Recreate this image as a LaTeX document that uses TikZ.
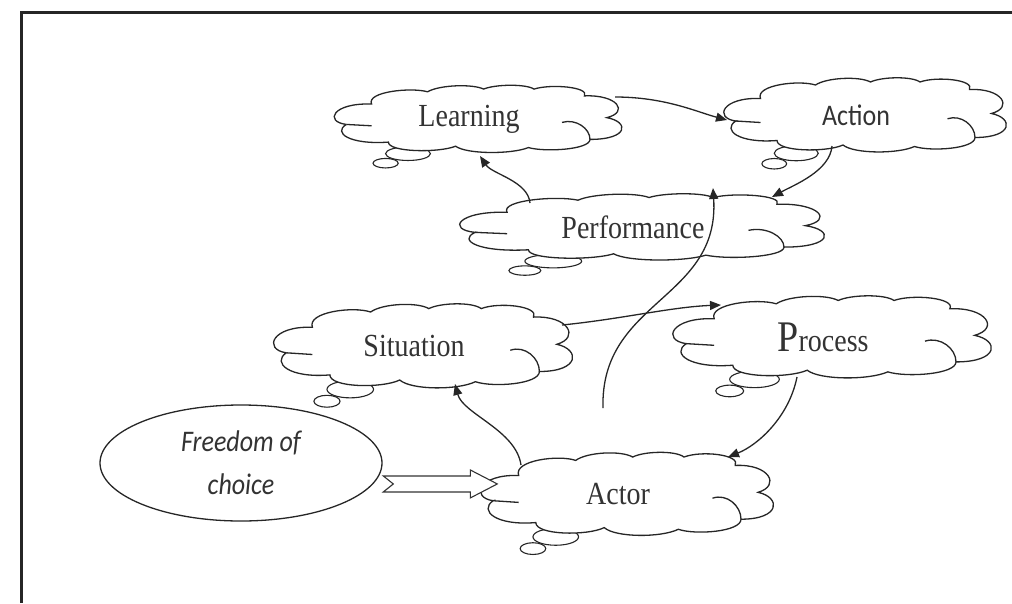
\documentclass[tikz,border=0pt]{standalone}
\usepackage{fontspec}
\setmainfont{Liberation Serif}
\newfontfamily\calfont{Carlito}
\usetikzlibrary{shapes.geometric,arrows.meta,calc}

\tikzset{
  ink/.style={draw=black!85, line width=1.3pt},
  bubble/.style={draw=black!85, line width=1.1pt, fill=white},
  cloudtext/.style={inner sep=0pt, font=\fontsize{28}{30}\selectfont, text=black!80},
  conn/.style={draw=black!85, line width=1.3pt, -{Triangle[length=11pt,width=9pt]}},
  hollowarrow/.style={draw=black!80, line width=1.1pt, fill=white, line join=miter},
  % puffed thought cloud in a 100 x 100 box around its centre
  cloudpic/.pic={
    \draw[bubble] (-25,51) ellipse (8 and 10);
    \draw[bubble] (-33,65) ellipse (4.5 and 7);
    \draw[ink, fill=white] (-47,8)
      .. controls (-55,4) and (-52,-24) .. (-38,-22)
      .. controls (-40,-40) and (-24,-47) .. (-18,-40)
      .. controls (-14,-50) and (-2,-52) .. (2,-44)
      .. controls (6,-51) and (17,-52) .. (20,-44)
      .. controls (26,-52) and (40,-47) .. (38,-34)
      .. controls (50,-36) and (54,-10) .. (46,-2)
      .. controls (54,4) and (54,30) .. (40,30)
      .. controls (40,45) and (24,49) .. (18,42)
      .. controls (12,52) and (-4,52) .. (-8,40)
      .. controls (-14,50) and (-32,49) .. (-32,34)
      .. controls (-46,38) and (-52,20) .. cycle;
    \draw[ink] (-47,8) -- (-38,10);
    \draw[ink] (30,5) .. controls (35,-1) and (40,14) .. (40,30);
  },
}
\newcommand\tallt[1]{\scalebox{1}[1.15]{#1}}

% #1 name, #2 cx, #3 cy, #4 width, #5 height, #6 label
\newcommand\thoughtcloud[6]{%
  \pic[xscale={#4/100}, yscale={#5/100}] at (#2,#3) {cloudpic};
  \node[cloudtext] (#1) at (#2,#3) {#6\hspace*{18pt}};
}

\begin{document}
\begin{tikzpicture}[x=1pt, y=-1pt]
  \useasboundingbox (0,0) rectangle (1012,603);
  \draw[line width=3pt, black!85] (21,603) -- (21,12) -- (1012,12);

  \thoughtcloud{learn}{478}{119}{280}{68}{\tallt{Learning}}
  \thoughtcloud{action}{865}{115}{275}{75}{\calfont\fontsize{26}{28}\selectfont\tallt{Action}}
  \thoughtcloud{perf}{642}{227}{355}{67}{\tallt{Performance}}
  \thoughtcloud{sit}{423}{346}{291}{85}{\tallt{Situation}}
  \thoughtcloud{proc}{832}{337}{310}{83}{\tallt{{\fontsize{38}{40}\selectfont P}rocess}}
  \thoughtcloud{actor}{627}{494}{285}{84}{\tallt{Actor}}

  \node[ink, ellipse, fill=white, minimum width=282, minimum height=116,
        font=\calfont\itshape\fontsize{26}{30}\selectfont, text=black!80,
        align=center] (free) at (241,463) {\tallt{Freedom of}\\[13pt]\tallt{choice}};

  % hollow notched arrow from the ellipse to the actor cloud
  \coordinate (tailpt) at ($(free.-9)+(10,0)$);
  \draw[hollowarrow] ($(tailpt)+(0,-8)$) -- ++(87,0) -- ++(0,-6)
    -- ($(tailpt)+(114,0)$) -- ($(tailpt)+(87,14)$) -- ++(0,-6)
    -- ($(tailpt)+(0,8)$) -- ($(tailpt)+(10,0)$) -- cycle;

  \coordinate (rise) at (603,408);
  \draw[conn] ($(learn)+(137,-22)$) .. controls +(50,0) and +(-30,-8) .. ($(action)+(-138,5)$);
  \draw[conn] ($(action)+(-33,31)$) .. controls +(-2,25) and +(22,-12) .. ($(perf)+(130,-30)$);
  \draw[conn] ($(perf)+(-112,-24)$) .. controls +(-2,-22) and +(12,18) .. ($(learn)+(2,37)$);
  \draw[conn] (rise) .. controls +(-3,-108) and +(7,112) .. ($(perf)+(71,-39)$);
  \draw[conn] ($(sit)+(139,-21)$) .. controls +(60,-6) and +(-50,2) .. ($(proc)+(-111,-32)$);
  \draw[conn] ($(actor)+(-106,-29)$) .. controls +(-5,-35) and +(8,30) .. ($(sit)+(32,38)$);
  \draw[conn] ($(proc)+(-35,40)$) .. controls +(-8,40) and +(30,-12) .. ($(actor)+(101,-37)$);
\end{tikzpicture}
\end{document}
